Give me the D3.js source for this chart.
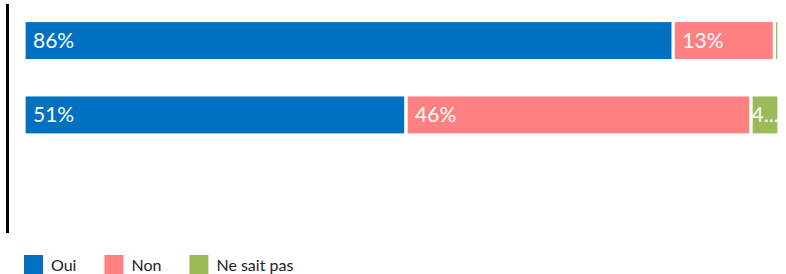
<!DOCTYPE html>
<html>
<head>
<meta charset="utf-8">
<script src="https://cdn.jsdelivr.net/npm/d3@7"></script>
<style>
  html, body { margin: 0; padding: 0; background: #fff; }
  svg { display: block; }
</style>
</head>
<body>
<svg id="chart" width="786" height="274"></svg>
<script>
const categories = ["Question 1", "Question 2"];
const seriesNames = ["Oui", "Non", "Ne sait pas"];
const seriesColors = ["#0070C0", "#FF8080", "#9BBB59"];
const oui = [86.0, 50.6];
const non = [13.4, 45.7];
const nsp = [0.6, 3.7];
const labelFormat = d => Math.round(d) + "%";

const svg = d3.select("#chart");
const fontFamily = "Lato, 'Open Sans', sans-serif";

const x = d3.scaleLinear().domain([0, 100]).range([24, 779]);
const y = d3.scaleBand().domain(categories).range([20.5, 135]).paddingInner(0.46).paddingOuter(0);

const rows = categories.map((c, i) => ({ cat: c, Oui: oui[i], Non: non[i], "Ne sait pas": nsp[i] }));
const stack = d3.stack().keys(seriesNames)(rows);

const defs = svg.append("defs");

// axis line
svg.append("line")
  .attr("x1", 7.5).attr("x2", 7.5)
  .attr("y1", 4).attr("y2", 233)
  .attr("stroke", "#000").attr("stroke-width", 3);

let clipId = 0;
stack.forEach((layer, si) => {
  const g = svg.append("g");
  layer.forEach((d, ri) => {
    const x0 = x(d[0]), x1 = x(d[1]);
    const yy = y(categories[ri]), h = y.bandwidth();
    g.append("rect")
      .attr("x", x0).attr("y", yy)
      .attr("width", Math.max(0, x1 - x0)).attr("height", h)
      .attr("fill", seriesColors[si])
      .attr("stroke", "#fff").attr("stroke-width", 3.2);
    const w = x1 - x0;
    const id = "clip" + (clipId++);
    defs.append("clipPath").attr("id", id)
      .append("rect").attr("x", x0 + 1).attr("y", yy).attr("width", Math.max(0, w - 1.5)).attr("height", h);
    const txt = svg.append("text")
      .attr("clip-path", `url(#${id})`)
      .attr("y", yy + h / 2)
      .attr("dy", "0.36em")
      .attr("fill", "#fff")
      .attr("font-family", fontFamily)
      .attr("font-size", 21)
      .text(labelFormat(d[1] - d[0]));
    const tw = txt.node().getComputedTextLength();
    if (tw <= w - 18) {
      txt.attr("x", x0 + 9);
    } else if (w >= 14) {
      txt.attr("x", x0 + 0.5).text(labelFormat(d[1] - d[0]).slice(0, 1) + "...");
    } else {
      txt.remove();
    }
  });
});

// legend
const legend = svg.append("g");
let lx = 24;
seriesNames.forEach((name, i) => {
  legend.append("rect")
    .attr("x", lx).attr("y", 255).attr("width", 19).attr("height", 19)
    .attr("fill", seriesColors[i]);
  const t = legend.append("text")
    .attr("x", lx + 27).attr("y", 270.5)
    .attr("fill", "#222")
    .attr("font-family", fontFamily)
    .attr("font-size", 16)
    .text(name);
  lx += 27 + t.node().getComputedTextLength() + 28;
});
</script>
</body>
</html>
